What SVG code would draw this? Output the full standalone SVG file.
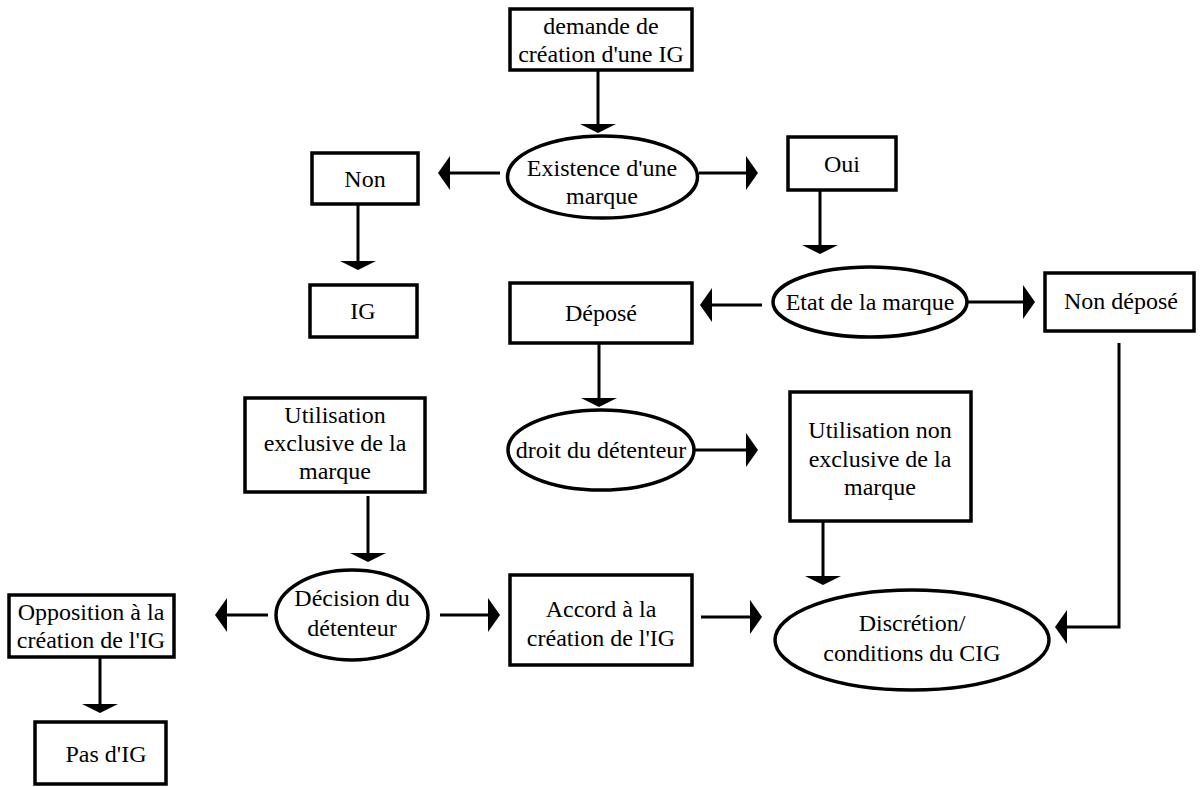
<svg xmlns="http://www.w3.org/2000/svg" width="1202" height="787" viewBox="0 0 1202 787">
  <style>
    .box { fill: #ffffff; stroke: #000000; stroke-width: 3.5; }
    .oval { fill: #ffffff; stroke: #000000; stroke-width: 3.5; }
    .lbl { font-family: "Liberation Serif", "Times New Roman", serif; font-size: 24px; fill: #000000; text-anchor: middle; }
    .con { fill: none; stroke: #000000; stroke-width: 3; }
    .conV { marker-end: url(#arrowV); }
    .conH { marker-end: url(#arrowH); }
  </style>
  <defs>
    <marker id="arrowV" viewBox="0 0 9 36" refX="0" refY="18" markerWidth="9" markerHeight="36" markerUnits="userSpaceOnUse" orient="auto">
      <path d="M0,0 L9,18 L0,36 Z" fill="#000000"/>
    </marker>
    <marker id="arrowH" viewBox="0 0 12 34" refX="0" refY="17" markerWidth="12" markerHeight="34" markerUnits="userSpaceOnUse" orient="auto">
      <path d="M0,0 L12,17 L0,34 Z" fill="#000000"/>
    </marker>
  </defs>
  <rect x="0" y="0" width="1202" height="787" fill="#ffffff"/>

  <g id="connectors">
    <line class="con conV" x1="598" y1="70" x2="598" y2="124"/>
    <line class="con conH" x1="500" y1="173" x2="450" y2="173"/>
    <line class="con conH" x1="699" y1="173" x2="746" y2="173"/>
    <line class="con conV" x1="358" y1="204" x2="358" y2="261"/>
    <line class="con conV" x1="820" y1="190" x2="820" y2="245"/>
    <line class="con conH" x1="762" y1="305" x2="712" y2="305"/>
    <line class="con conH" x1="967" y1="302" x2="1023" y2="302"/>
    <line class="con conV" x1="599" y1="343" x2="599" y2="398"/>
    <line class="con conH" x1="695" y1="450" x2="746" y2="450"/>
    <line class="con conV" x1="823" y1="521" x2="823" y2="576"/>
    <path class="con conH" d="M1119,343 V627 H1067"/>
    <line class="con conV" x1="368" y1="496" x2="368" y2="553"/>
    <line class="con conH" x1="268" y1="615" x2="227" y2="615"/>
    <line class="con conH" x1="440" y1="615" x2="488" y2="615"/>
    <line class="con conH" x1="701" y1="617" x2="750" y2="617"/>
    <line class="con conV" x1="100" y1="657" x2="100" y2="704"/>
  </g>

  <g id="n-demande">
    <rect class="box" x="510" y="9" width="182" height="61"/>
    <text class="lbl" x="601" y="34">demande de</text>
    <text class="lbl" x="601" y="62">création d'une IG</text>
  </g>
  <g id="n-existence">
    <ellipse class="oval" cx="602.5" cy="177" rx="95" ry="41"/>
    <text class="lbl" x="602" y="176">Existence d'une</text>
    <text class="lbl" x="602" y="204">marque</text>
  </g>
  <g id="n-non">
    <rect class="box" x="312" y="153" width="106" height="51"/>
    <text class="lbl" x="365" y="187">Non</text>
  </g>
  <g id="n-oui">
    <rect class="box" x="788" y="137" width="108" height="53"/>
    <text class="lbl" x="842" y="172">Oui</text>
  </g>
  <g id="n-ig">
    <rect class="box" x="310" y="285" width="107" height="52"/>
    <text class="lbl" x="363" y="319">IG</text>
  </g>
  <g id="n-etat">
    <ellipse class="oval" cx="870" cy="302" rx="97" ry="35"/>
    <text class="lbl" x="870" y="310">Etat de la marque</text>
  </g>
  <g id="n-depose">
    <rect class="box" x="510" y="283" width="182" height="60"/>
    <text class="lbl" x="601" y="321">Déposé</text>
  </g>
  <g id="n-nondepose">
    <rect class="box" x="1045" y="273" width="149" height="58"/>
    <text class="lbl" x="1121" y="309">Non déposé</text>
  </g>
  <g id="n-droit">
    <ellipse class="oval" cx="601" cy="450" rx="93" ry="40"/>
    <text class="lbl" x="601" y="458">droit du détenteur</text>
  </g>
  <g id="n-utilnonexcl">
    <rect class="box" x="790" y="392" width="181" height="129"/>
    <text class="lbl" x="880" y="438">Utilisation non</text>
    <text class="lbl" x="880" y="467">exclusive de la</text>
    <text class="lbl" x="880" y="495">marque</text>
  </g>
  <g id="n-utilexcl">
    <rect class="box" x="245" y="398" width="180" height="94"/>
    <text class="lbl" x="335" y="423">Utilisation</text>
    <text class="lbl" x="335" y="451">exclusive de la</text>
    <text class="lbl" x="335" y="479">marque</text>
  </g>
  <g id="n-decision">
    <ellipse class="oval" cx="352" cy="615" rx="76" ry="45"/>
    <text class="lbl" x="352" y="606">Décision du</text>
    <text class="lbl" x="352" y="636">détenteur</text>
  </g>
  <g id="n-accord">
    <rect class="box" x="510" y="575" width="182" height="90"/>
    <text class="lbl" x="601" y="617">Accord à la</text>
    <text class="lbl" x="601" y="646">création de l'IG</text>
  </g>
  <g id="n-discretion">
    <ellipse class="oval" cx="912" cy="640" rx="137" ry="50"/>
    <text class="lbl" x="912" y="631">Discrétion/</text>
    <text class="lbl" x="912" y="661">conditions du CIG</text>
  </g>
  <g id="n-opposition">
    <rect class="box" x="9" y="595" width="165" height="62"/>
    <text class="lbl" x="91" y="620">Opposition à la</text>
    <text class="lbl" x="91" y="648">création de l'IG</text>
  </g>
  <g id="n-pasdig">
    <rect class="box" x="35" y="722" width="131" height="62"/>
    <text class="lbl" x="106" y="762">Pas d'IG</text>
  </g>
</svg>
